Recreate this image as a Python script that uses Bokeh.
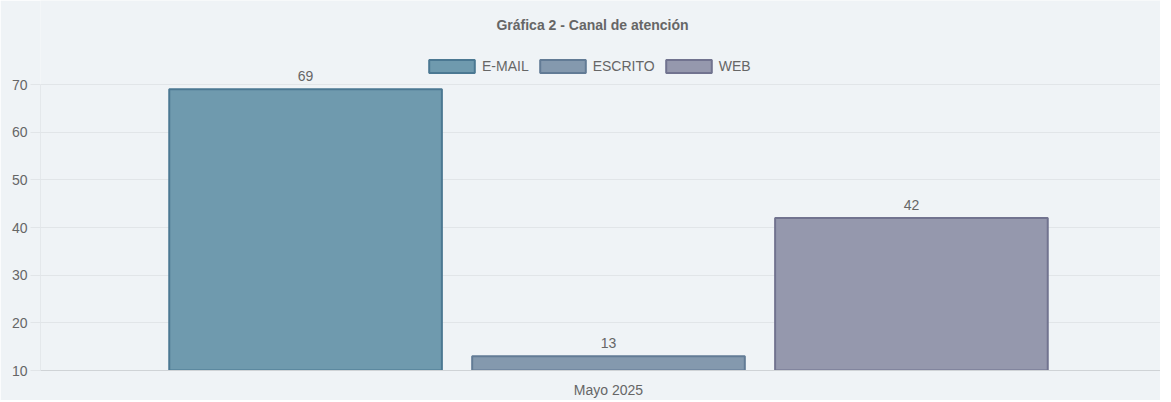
from bokeh.plotting import figure
from bokeh.models import Range1d, FixedTicker, Legend, LegendItem, ColumnDataSource, Label
from bokeh.embed import file_html
from bokeh.resources import INLINE
from bokeh.core.properties import value

# Data
category = ["Mayo 2025"]
series = ["E-MAIL", "ESCRITO", "WEB"]
values = [69, 13, 42]
y_ticks = [10, 20, 30, 40, 50, 60, 70]
fills = ["#6f9aae", "#8499ae", "#9598ad"]
borders = ["#4b7892", "#627b95", "#71738f"]
title_text = "Gráfica 2 - Canal de atención"

FONT = "Liberation Sans"
FS = "14px"
TXT = "#666666"
BG = "#eff3f6"
GRID = "#e1e5e8"

W, H = 1160, 400
LEFT, BOTTOM = 40, 30
FRAME_W = W - LEFT
FRAME_H = H - BOTTOM           # frame spans the full height above x-axis
PLOT_TOP_PX = 84               # pixel row where the top tick (70) sits
CAT_PX = 1136                  # category width in pixels
ymin, ymax = y_ticks[0], y_ticks[-1]
px_per_unit = (FRAME_H - PLOT_TOP_PX) / (ymax - ymin)
y_end = ymax + PLOT_TOP_PX / px_per_unit

p = figure(width=W, height=H, output_backend="svg", toolbar_location=None,
           x_range=Range1d(-0.5, -0.5 + FRAME_W / CAT_PX), y_range=Range1d(ymin, y_end),
           min_border_left=LEFT, min_border_right=0, min_border_bottom=BOTTOM, min_border_top=0)
p.background_fill_color = BG
p.border_fill_color = BG
p.outline_line_color = None

slot = 0.8 / len(series)
barw = slot * 0.9
xs = [(i - (len(series) - 1) / 2) * slot for i in range(len(series))]
src = ColumnDataSource(dict(x=xs, top=values, lbl=[str(v) for v in values]))
renderers = []
for i in range(len(series)):
    r = p.vbar(x=xs[i], top=values[i], bottom=ymin, width=barw, fill_color=fills[i],
               line_color=borders[i], line_width=2)
    renderers.append(r)

p.text(x="x", y="top", text="lbl", source=src, text_align="center", text_baseline="bottom",
       y_offset=-8, text_font=value(FONT), text_font_size=FS, text_color=TXT)

# left axis border line (only over the value range)
p.segment(x0=[-0.5], y0=[ymin], x1=[-0.5], y1=[ymax], line_color="#d6dadd", line_width=1)

# axes
p.yaxis.ticker = FixedTicker(ticks=y_ticks)
p.yaxis.axis_line_color = None
p.yaxis.major_tick_line_color = GRID
p.yaxis.major_tick_out = 10
p.yaxis.major_tick_in = 0
p.yaxis.minor_tick_line_color = None
p.yaxis.major_label_standoff = 3
p.yaxis.major_label_text_font = FONT
p.yaxis.major_label_text_font_size = FS
p.yaxis.major_label_text_color = TXT

p.xaxis.ticker = FixedTicker(ticks=[0])
p.xaxis.major_label_overrides = {0: category[0]}
p.xaxis.axis_line_color = "#cfd3d6"
p.xaxis.major_tick_line_color = None
p.xaxis.major_tick_out = 0
p.xaxis.major_tick_in = 0
p.xaxis.minor_tick_line_color = None
p.xaxis.minor_tick_out = 0
p.xaxis.major_label_standoff = 11
p.xaxis.major_label_text_font = FONT
p.xaxis.major_label_text_font_size = FS
p.xaxis.major_label_text_color = TXT

p.xgrid.grid_line_color = None
p.ygrid.grid_line_color = GRID

legend = Legend(items=[LegendItem(label=series[i], renderers=[renderers[i]]) for i in range(len(series))],
                orientation="horizontal", location=(383, FRAME_H - 74),
                glyph_width=57, glyph_height=16, label_text_font=FONT, label_text_font_size=FS,
                label_text_color=TXT, background_fill_alpha=0, border_line_color=None,
                spacing=5, label_standoff=2, padding=0, margin=0)
p.add_layout(legend, "center")

# title centred at pixel column 592, row 24
title_x = -0.5 + (592 - LEFT) / CAT_PX
title_y = ymax + (PLOT_TOP_PX - 24) / px_per_unit
p.add_layout(Label(x=title_x, y=title_y, text=title_text, text_align="center",
                   text_baseline="middle", text_font=FONT, text_font_size=FS,
                   text_font_style="bold", text_color=TXT))

open("out.html", "w").write(file_html(p, INLINE))
